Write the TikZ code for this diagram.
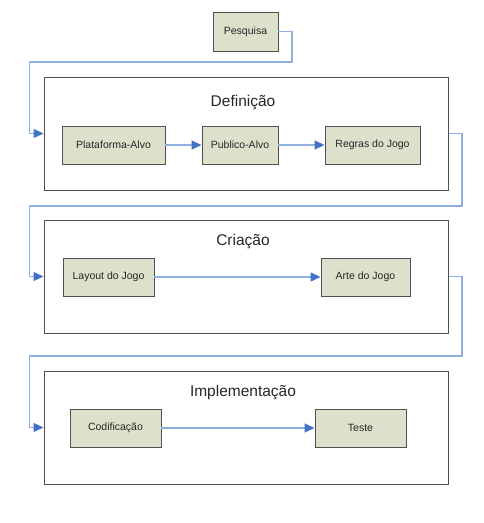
\documentclass[tikz,border=0pt]{standalone}
\usepackage{fontspec}
\setmainfont{Liberation Sans}
\usepackage{xcolor}
\definecolor{bege}{RGB}{221, 224, 202}
\definecolor{cinzaEscuro}{RGB}{80, 80, 80}
\definecolor{azulClaro}{RGB}{141, 176, 224}
\definecolor{azul}{RGB}{68, 114, 196}
\usepackage{tikz}
\usetikzlibrary{arrows.meta,calc,positioning}
\tikzstyle{etapa} =[rectangle, draw=cinzaEscuro, fill=bege, line width=0.9pt,
                    minimum height=38pt, inner sep=0pt,
                    font=\fontsize{10.5}{12}\selectfont, text=black!85]
\tikzstyle{fase}  =[rectangle, draw=cinzaEscuro, line width=1pt,
                    minimum width=404pt, minimum height=113pt, inner sep=0pt]
\tikzstyle{titulo}=[font=\fontsize{15.5}{18}\selectfont, text=black!85]
\tikzstyle{fluxo} =[draw=azulClaro, line width=1.3pt,
                    -{Triangle[length=10pt,width=9pt,color=azul]}]

\begin{document}
\begin{tikzpicture}[x=1pt,y=-1pt]
    \useasboundingbox (0,0) rectangle (484,523);

        % fases
        \draw (246,133.5) node (def) [fase] {};
        \draw (246,276.5) node (cria) [fase] {};
        \draw (246,427.5) node (impl) [fase] {};
        \draw (243,103) node (tdef) [titulo] {Definição};
        \draw (243,242) node (tcria) [titulo] {Criação};
        \draw (243,393) node (timpl) [titulo] {Implementação};

        % etapas
        \draw (245.5,31.5) node (pesq) [etapa,minimum width=65pt,minimum height=39pt] {Pesquisa};
        \draw (113.5,145) node (plat) [etapa,minimum width=103pt] {Plataforma-Alvo};
        \draw (240,145) node (pub) [etapa,minimum width=76pt] {Publico-Alvo};
        \draw (372.5,145) node (regras) [etapa,minimum width=95pt] {Regras do Jogo};
        \draw (108.5,277) node (layout) [etapa,minimum width=91pt] {Layout do Jogo};
        \draw (365.5,277) node (arte) [etapa,minimum width=89pt] {Arte do Jogo};
        \draw (115.5,428) node (cod) [etapa,minimum width=91pt] {Codificação};
        \draw (360.5,428) node (teste) [etapa,minimum width=91pt] {Teste};

        \foreach \i/\j in {plat/pub,pub/regras,layout/arte,cod/teste}
            \draw [fluxo] (\i) -- (\j);

        % ligacoes entre fases
        \draw [fluxo] (pesq.east) -| (292,62) -| ([xshift=-14pt]def.west) -- (def.west);
        \draw [fluxo] (def.east) -| (462,206) -| ([xshift=-14pt]cria.west) -- (cria.west);
        \draw [fluxo] (cria.east) -| (462,356) -| ([xshift=-14pt]impl.west) -- (impl.west);

\end{tikzpicture}
\end{document}
